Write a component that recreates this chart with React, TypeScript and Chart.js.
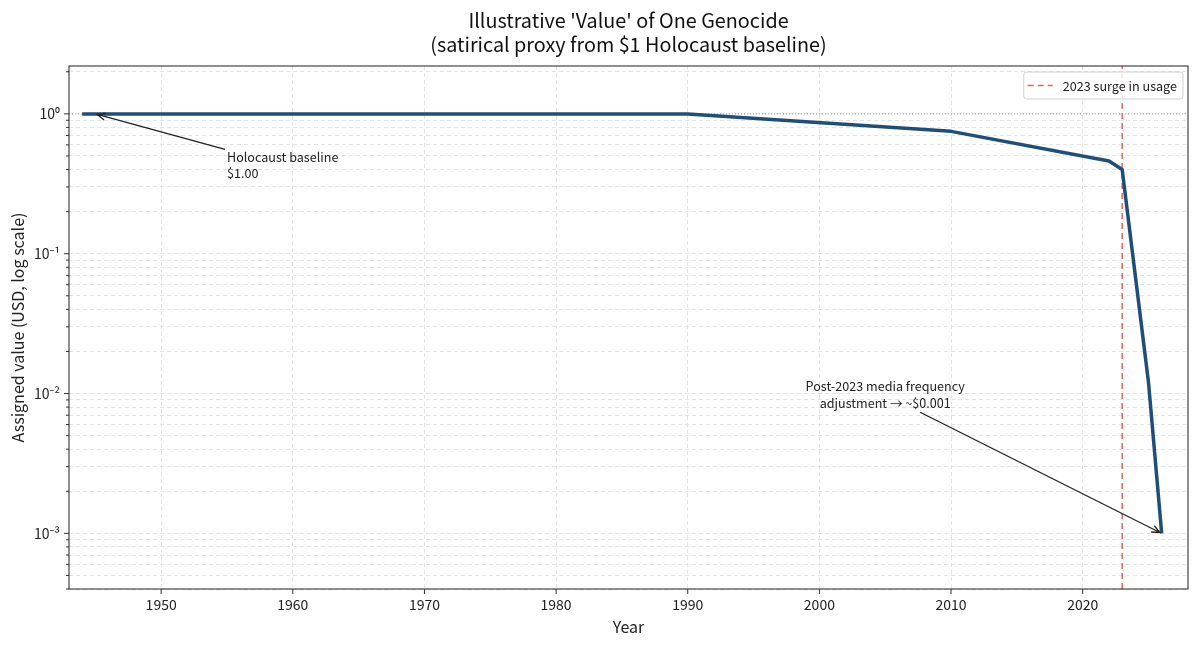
import React, { useEffect, useRef } from "react";
import { Chart, registerables } from "chart.js";

Chart.register(...registerables);

// ---- data ----
const YEARS = [1944, 1990, 2010, 2022, 2023, 2025, 2026];
const VALUES = [1, 1, 0.75, 0.46, 0.4, 0.012, 0.001];
const X_TICKS = [1950, 1960, 1970, 1980, 1990, 2000, 2010, 2020];
const Y_DECADE_EXPONENTS = [-4, -3, -2, -1, 0];
const Y_MINOR_MULTIPLIERS = [1, 2, 3, 4, 5, 6, 7, 8, 9];
const X_MIN = 1943;
const X_MAX = 2028;
const Y_MIN = 4e-4;
const Y_MAX = 2.2;
const SURGE_YEAR = 2023;
const BASELINE_VALUE = 1;

const TITLE_LINES = [
  "Illustrative 'Value' of One Genocide",
  "(satirical proxy from $1 Holocaust baseline)",
];
const SERIES_LABEL = "Assigned value";
const SURGE_LABEL = "2023 surge in usage";
const X_TITLE = "Year";
const Y_TITLE = "Assigned value (USD, log scale)";

const ANNOTATIONS = [
  { lines: ["Holocaust baseline", "$1.00"], target: [1945, 1], text: [1955, 0.43], align: "left" },
  {
    lines: ["Post-2023 media frequency", "adjustment \u2192 ~$0.001"],
    target: [2026, 0.001],
    text: [2005, 0.0098],
    align: "center",
  },
];

const FONT = "'Noto Sans CJK JP', 'Noto Sans', sans-serif";
const TEXT_COLOR = "#222222";
const LINE_COLOR = "#1f4e79";
const SURGE_COLOR = "#dd6a5a";
const SMALL_FONT_SIZE = 12.6;

const Y_TICKS: number[] = [];
Y_DECADE_EXPONENTS.forEach((e) => {
  Y_MINOR_MULTIPLIERS.forEach((m) => {
    const v = parseFloat((m * Math.pow(10, e)).toPrecision(6));
    if (v >= Y_MIN * 0.999 && v <= Y_MAX * 1.001) Y_TICKS.push(v);
  });
});

const SUP: Record<string, string> = {
  "-": "\u207B",
  "0": "\u2070",
  "1": "\u00B9",
  "2": "\u00B2",
  "3": "\u00B3",
  "4": "\u2074",
  "5": "\u2075",
  "6": "\u2076",
  "7": "\u2077",
  "8": "\u2078",
  "9": "\u2079",
};
const isDecade = (v: number) => Math.abs(Math.log10(v) - Math.round(Math.log10(v))) < 1e-6;
const decadeLabel = (v: number) => {
  const e = String(Math.round(Math.log10(v)));
  return "10" + e.split("").map((c) => SUP[c] || c).join("");
};

const decorPlugin = {
  id: "decor",
  afterDraw(chart: any) {
    const { ctx, chartArea: ca, scales } = chart;
    const xs = scales.x;
    const ys = scales.y;
    ctx.save();

    // frame
    ctx.strokeStyle = "#333333";
    ctx.lineWidth = 1.1;
    ctx.setLineDash([]);
    ctx.strokeRect(ca.left, ca.top, ca.right - ca.left, ca.bottom - ca.top);

    // tick marks
    ctx.lineWidth = 1;
    ctx.beginPath();
    xs.ticks.forEach((t: any) => {
      const px = xs.getPixelForValue(t.value);
      ctx.moveTo(px, ca.bottom);
      ctx.lineTo(px, ca.bottom + 5);
    });
    ys.ticks.forEach((t: any) => {
      const py = ys.getPixelForValue(t.value);
      const len = isDecade(t.value) ? 5 : 3;
      ctx.moveTo(ca.left - len, py);
      ctx.lineTo(ca.left, py);
    });
    ctx.stroke();

    // legend
    const surge = chart.data.datasets.find((d: any) => d.id === "surge");
    if (surge) {
      ctx.font = `${SMALL_FONT_SIZE}px ${FONT}`;
      const tw = ctx.measureText(surge.label).width;
      const boxW = 4 + 25 + 10 + tw + 6;
      const boxH = 27;
      const bx = ca.right - 5 - boxW;
      const by = ca.top + 6;
      ctx.beginPath();
      if (ctx.roundRect) ctx.roundRect(bx, by, boxW, boxH, 3);
      else ctx.rect(bx, by, boxW, boxH);
      ctx.fillStyle = "rgba(255,255,255,0.85)";
      ctx.fill();
      ctx.strokeStyle = "#d0d0d0";
      ctx.lineWidth = 1;
      ctx.stroke();
      const ly = by + boxH / 2;
      ctx.beginPath();
      ctx.setLineDash(surge.borderDash || []);
      ctx.strokeStyle = surge.borderColor;
      ctx.lineWidth = surge.borderWidth;
      ctx.moveTo(bx + 4, ly);
      ctx.lineTo(bx + 29, ly);
      ctx.stroke();
      ctx.setLineDash([]);
      ctx.fillStyle = TEXT_COLOR;
      ctx.textAlign = "left";
      ctx.textBaseline = "middle";
      ctx.fillText(surge.label, bx + 39, ly + 0.5);
    }

    // annotations
    ctx.font = `${SMALL_FONT_SIZE}px ${FONT}`;
    const lh = 16.6;
    ANNOTATIONS.forEach((a) => {
      const tx = xs.getPixelForValue(a.text[0]);
      const ty = ys.getPixelForValue(a.text[1]);
      const px = xs.getPixelForValue(a.target[0]);
      const py = ys.getPixelForValue(a.target[1]);
      const widths = a.lines.map((l) => ctx.measureText(l).width);
      const w = Math.max(...widths);
      const h = lh * a.lines.length;
      const left = a.align === "left" ? tx : tx - w / 2;
      const top = ty - h / 2;
      ctx.fillStyle = TEXT_COLOR;
      ctx.textBaseline = "middle";
      ctx.textAlign = a.align === "left" ? "left" : "center";
      a.lines.forEach((l, i) => {
        ctx.fillText(l, tx, top + lh * (i + 0.5));
      });
      // arrow from bbox edge toward target
      const cx = left + w / 2;
      const cy = top + h / 2;
      const dx = px - cx;
      const dy = py - cy;
      const sx = dx !== 0 ? (w / 2) / Math.abs(dx) : Infinity;
      const sy = dy !== 0 ? (h / 2) / Math.abs(dy) : Infinity;
      const s = Math.min(sx, sy);
      const dist = Math.hypot(dx, dy);
      const ux = dx / dist;
      const uy = dy / dist;
      const x0 = cx + dx * s + ux * 2;
      const y0 = cy + dy * s + uy * 2;
      const x1 = px - ux * 2;
      const y1 = py - uy * 2;
      ctx.strokeStyle = "#222222";
      ctx.lineWidth = 1.3;
      ctx.beginPath();
      ctx.moveTo(x0, y0);
      ctx.lineTo(x1, y1);
      const hl = 8;
      const hw = 3.5;
      ctx.moveTo(x1 - ux * hl - uy * hw, y1 - uy * hl + ux * hw);
      ctx.lineTo(x1, y1);
      ctx.lineTo(x1 - ux * hl + uy * hw, y1 - uy * hl - ux * hw);
      ctx.stroke();
    });

    // title
    ctx.fillStyle = "#111111";
    ctx.font = `19.8px ${FONT}`;
    ctx.textAlign = "center";
    ctx.textBaseline = "middle";
    const mid = (ca.left + ca.right) / 2;
    TITLE_LINES.forEach((l, i) => ctx.fillText(l, mid, 20 + i * 24));

    ctx.restore();
  },
};

export default function App() {
  const ref = useRef<HTMLCanvasElement | null>(null);
  useEffect(() => {
    if (!ref.current) return;
    const chart = new Chart(ref.current, {
      type: "line",
      data: {
        datasets: [
          {
            label: SERIES_LABEL,
            data: YEARS.map((x, i) => ({ x, y: VALUES[i] })),
            borderColor: LINE_COLOR,
            backgroundColor: LINE_COLOR,
            borderWidth: 3.5,
            pointRadius: 0,
            tension: 0,
            borderJoinStyle: "round",
          },
          {
            id: "surge",
            label: SURGE_LABEL,
            data: [
              { x: SURGE_YEAR, y: Y_MIN },
              { x: SURGE_YEAR, y: Y_MAX },
            ],
            borderColor: SURGE_COLOR,
            borderWidth: 1.5,
            borderDash: [6, 4],
            pointRadius: 0,
          },
          {
            label: "baseline",
            data: [
              { x: X_MIN, y: BASELINE_VALUE },
              { x: X_MAX, y: BASELINE_VALUE },
            ],
            borderColor: "#9a9a9a",
            borderWidth: 1,
            borderDash: [1, 2],
            pointRadius: 0,
          },
        ] as any,
      },
      options: {
        animation: false,
        responsive: true,
        maintainAspectRatio: false,
        layout: { padding: { top: 66, right: 11, left: 0, bottom: 0 } },
        plugins: {
          legend: { display: false },
          title: { display: false },
          tooltip: { enabled: false },
        },
        scales: {
          x: {
            type: "linear",
            min: X_MIN,
            max: X_MAX,
            afterBuildTicks: (s: any) => {
              s.ticks = X_TICKS.map((v) => ({ value: v }));
            },
            afterFit: (s: any) => {
              s.height = 56;
            },
            ticks: {
              autoSkip: false,
              maxRotation: 0,
              padding: 7,
              color: TEXT_COLOR,
              font: { family: FONT, size: 14 },
              callback: (v: any) => String(v),
            },
            grid: { color: "#dddddd", lineWidth: 0.8, drawTicks: false },
            border: { display: false, dash: [4, 3] },
            title: {
              display: true,
              text: X_TITLE,
              color: TEXT_COLOR,
              font: { family: FONT, size: 16 },
              padding: { top: 0, bottom: 8 },
            },
          },
          y: {
            type: "logarithmic",
            min: Y_MIN,
            max: Y_MAX,
            afterBuildTicks: (s: any) => {
              s.ticks = Y_TICKS.map((v) => ({ value: v, major: isDecade(v) }));
            },
            afterFit: (s: any) => {
              s.width = 69;
            },
            ticks: {
              autoSkip: false,
              padding: 9,
              color: TEXT_COLOR,
              font: { family: FONT, size: 14 },
              callback: (v: any) => (isDecade(Number(v)) ? decadeLabel(Number(v)) : ""),
            },
            grid: { color: "#dddddd", lineWidth: 0.8, drawTicks: false },
            border: { display: false, dash: [4, 3] },
            title: {
              display: true,
              text: Y_TITLE,
              color: TEXT_COLOR,
              font: { family: FONT, size: 16 },
              padding: { top: 8, bottom: 0 },
            },
          },
        },
      },
      plugins: [decorPlugin],
    });
    return () => chart.destroy();
  }, []);

  return (
    <div style={{ position: "fixed", left: 0, top: 0, width: 1199, height: 645, background: "#ffffff" }}>
      <canvas ref={ref} />
    </div>
  );
}
